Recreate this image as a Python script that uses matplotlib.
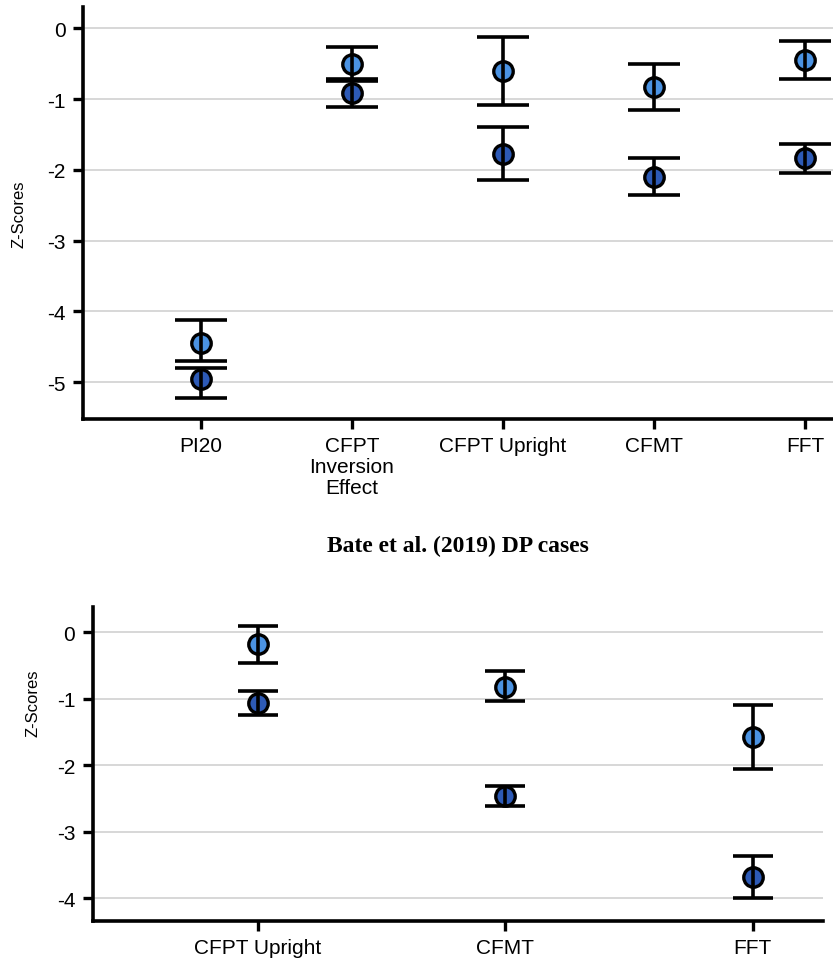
import numpy as np
import matplotlib
matplotlib.use('Agg')
import matplotlib.pyplot as plt

plt.rcParams['font.family'] = ['Liberation Sans', 'DejaVu Sans']

# top panel
top_tests = ['PI20', 'CFPT\nInversion\nEffect', 'CFPT Upright', 'CFMT', 'FFT']
top_light_mean = [-4.45, -0.50, -0.60, -0.83, -0.45]
top_light_hi = [-4.12, -0.27, -0.13, -0.50, -0.18]
top_light_lo = [-4.70, -0.745, -1.08, -1.16, -0.72]
top_dark_mean = [-4.96, -0.92, -1.77, -2.10, -1.84]
top_dark_hi = [-4.80, -0.72, -1.40, -1.84, -1.64]
top_dark_lo = [-5.23, -1.11, -2.15, -2.36, -2.05]

# bottom panel (Bate et al. 2019)
bot_tests = ['CFPT Upright', 'CFMT', 'FFT']
bot_light_mean = [-0.18, -0.82, -1.57]
bot_light_hi = [0.10, -0.59, -1.10]
bot_light_lo = [-0.46, -1.04, -2.06]
bot_dark_mean = [-1.06, -2.46, -3.68]
bot_dark_hi = [-0.88, -2.31, -3.37]
bot_dark_lo = [-1.25, -2.61, -4.00]

light = '#4b93e3'
dark = '#2d5ab6'

W, H = 833, 962
fig = plt.figure(figsize=(W / 100, H / 100), dpi=100)


def px_axes(l, t, r, b):
    return fig.add_axes([l / W, 1 - b / H, (r - l) / W, (b - t) / H])


def draw_panel(ax, tests, groups, capsize, xlim, ylim, yticks):
    x = np.arange(len(tests))
    for mean, hi, lo, col in groups:
        mean = np.array(mean)
        err = [mean - np.array(lo), np.array(hi) - mean]
        ax.plot(x, mean, 'o', ms=14, mfc=col, mec='black', mew=2.4, zorder=3)
        ax.errorbar(x, mean, yerr=err, fmt='none', ecolor='black',
                    elinewidth=2.6, capsize=capsize, capthick=2.6, zorder=4)
    ax.set_xlim(*xlim)
    ax.set_ylim(*ylim)
    ax.set_xticks(x)
    ax.set_xticklabels(tests, fontsize=15, linespacing=1.12)
    ax.set_yticks(yticks)
    ax.set_yticklabels([str(v) for v in yticks], fontsize=15)
    ax.yaxis.grid(True, color='#d4d4d4', lw=1.3)
    ax.set_axisbelow(True)
    for s in ['top', 'right']:
        ax.spines[s].set_visible(False)
    for s in ['left', 'bottom']:
        ax.spines[s].set_linewidth(2.6)
    ax.tick_params(axis='both', length=7.5, width=2.4, color='black')
    ax.tick_params(axis='x', pad=5)
    ax.tick_params(axis='y', pad=5)


ax1 = px_axes(83, 8, 833, 420)
draw_panel(ax1, top_tests,
           [(top_light_mean, top_light_hi, top_light_lo, light),
            (top_dark_mean, top_dark_hi, top_dark_lo, dark)],
           capsize=18.7, xlim=(-0.781, 4.185), ylim=(-5.52, 0.30),
           yticks=[0, -1, -2, -3, -4, -5])
fig.text(19 / W, 1 - 214 / H, 'Z-Scores', rotation=90, fontsize=12,
         fontweight='medium', ha='center', va='center')

ax2 = px_axes(92.7, 607.7, 823, 921.7)
draw_panel(ax2, bot_tests,
           [(bot_light_mean, bot_light_hi, bot_light_lo, light),
            (bot_dark_mean, bot_dark_hi, bot_dark_lo, dark)],
           capsize=14.4, xlim=(-0.666, 2.284), ylim=(-4.34, 0.385),
           yticks=[0, -1, -2, -3, -4])
fig.text(33 / W, 1 - 703 / H, 'Z-Scores', rotation=90, fontsize=12,
         fontweight='medium', ha='center', va='center')

fig.text(458 / W, 1 - 546 / H, 'Bate et al. (2019) DP cases',
         family='Liberation Serif', fontweight='bold', fontsize=17,
         ha='center', va='center')

fig.savefig('out.png', dpi=100)
